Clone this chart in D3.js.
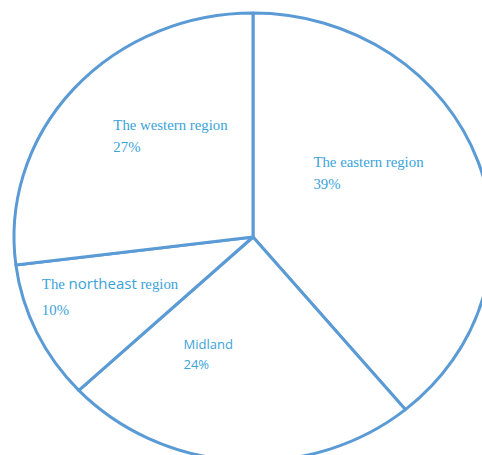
<!DOCTYPE html>
<html>
<head>
<meta charset="utf-8">
<script src="https://cdn.jsdelivr.net/npm/d3@7"></script>
<style>
  html, body { margin: 0; padding: 0; background: #ffffff; }
  svg { display: block; }
</style>
</head>
<body>
<svg id="chart" width="482" height="455"></svg>
<script>
// ---- data ----
const categories = ["The eastern region", "Midland", "The northeast region", "The western region"];
const values = [39, 24, 10, 27];
const percentLabels = ["39%", "24%", "10%", "27%"];

// ---- layout / style (kept apart from data) ----
const W = 482, H = 455;
const cx = 253, cy = 237, rx = 239, ry = 224;
const strokeColor = "#5b9bd5";
const textColor = "#3aa3da";
const serif = "'Liberation Serif', 'Times New Roman', serif";
const sans = "'Open Sans', 'Noto Sans', sans-serif";
// label offsets relative to arc centroid (in screen px), line gap
const labelOffsets = [[-52, -32], [-62, 0], [-103, 4], [-50, -33]];
const lineGap = [22, 20, 26, 22];
// font segmentation of name labels
const nameStyles = [
  [{ t: "The eastern region", f: serif, s: 14.8 }],
  [{ t: "Midland", f: sans, s: 13 }],
  [{ t: "The ", f: serif, s: 14.8 }, { t: "northeast", f: sans, s: 15 }, { t: " region", f: serif, s: 14.8 }],
  [{ t: "The western region", f: serif, s: 14.8 }]
];
const pctStyles = [
  { f: serif, s: 14.8 }, { f: sans, s: 13 }, { f: serif, s: 14.8 }, { f: serif, s: 14.8 }
];

const svg = d3.select("#chart");
svg.append("rect").attr("width", W).attr("height", H).attr("fill", "#fff");

const data = categories.map((c, i) => ({ name: c, value: values[i], pct: percentLabels[i], i }));
const pie = d3.pie().value(d => d.value).sort(null);
const arcs = pie(data);
const arc = d3.arc().innerRadius(0).outerRadius(ry);

const sx = rx / ry;
const g = svg.append("g").attr("transform", `translate(${cx},${cy}) scale(${sx},1)`);

g.selectAll("path")
  .data(arcs)
  .join("path")
  .attr("d", arc)
  .attr("fill", "#ffffff")
  .attr("stroke", strokeColor)
  .attr("stroke-width", 3)
  .attr("stroke-linejoin", "round")
  .attr("vector-effect", "non-scaling-stroke");

const labels = svg.append("g");
arcs.forEach((a, k) => {
  const c = arc.centroid(a);
  const x = cx + c[0] * sx + labelOffsets[k][0];
  const y = cy + c[1] + labelOffsets[k][1];
  const t1 = labels.append("text")
    .attr("x", x).attr("y", y)
    .attr("fill", textColor);
  nameStyles[k].forEach(seg => {
    t1.append("tspan")
      .attr("font-family", seg.f)
      .attr("font-size", seg.s)
      .attr("xml:space", "preserve")
      .style("white-space", "pre")
      .text(seg.t);
  });
  labels.append("text")
    .attr("x", x).attr("y", y + lineGap[k])
    .attr("fill", textColor)
    .attr("font-family", pctStyles[k].f)
    .attr("font-size", pctStyles[k].s)
    .text(a.data.pct);
});
</script>
</body>
</html>
